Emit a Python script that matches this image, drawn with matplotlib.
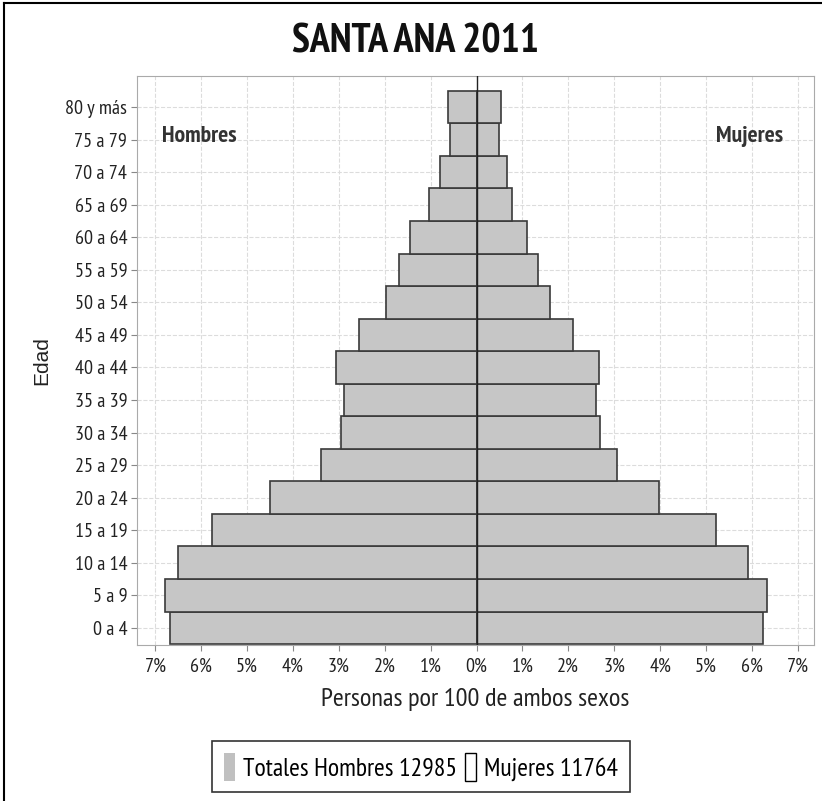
import matplotlib.pyplot as plt
from matplotlib.patches import Patch
from matplotlib.ticker import FuncFormatter

# Data (percent of total population)
grupos = ['0 a 4', '5 a 9', '10 a 14', '15 a 19', '20 a 24', '25 a 29', '30 a 34',
          '35 a 39', '40 a 44', '45 a 49', '50 a 54', '55 a 59', '60 a 64',
          '65 a 69', '70 a 74', '75 a 79', '80 y más']
hombres = [6.69, 6.79, 6.51, 5.77, 4.50, 3.39, 2.96, 2.89, 3.07, 2.56, 1.97,
           1.68, 1.44, 1.04, 0.80, 0.58, 0.62]
mujeres = [6.24, 6.34, 5.92, 5.21, 3.97, 3.06, 2.69, 2.61, 2.66, 2.10, 1.59,
           1.33, 1.09, 0.77, 0.67, 0.49, 0.53]
ticks_x = [-7, -6, -5, -4, -3, -2, -1, 0, 1, 2, 3, 4, 5, 6, 7]

narrow = ['PT Sans Narrow', 'Archivo Narrow', 'DejaVu Sans']

fig = plt.figure(figsize=(8.22, 8.01), dpi=100)
ax = fig.add_axes([0.1667, 0.195, 0.8233, 0.71])

y = range(len(grupos))
bar_kw = dict(height=1.0, color='#c6c6c6', edgecolor='#3a3a3a', linewidth=1.2, zorder=2)
ax.barh(y, [-v for v in hombres], **bar_kw)
ax.barh(y, mujeres, **bar_kw)
ax.axvline(0, color='#222222', linewidth=1.0, zorder=3)

ax.set_xlim(-7.4, 7.35)
ax.set_ylim(-0.52, 16.95)
ax.set_xticks(ticks_x)
ax.xaxis.set_major_formatter(FuncFormatter(lambda v, p: f'{abs(int(round(v)))}%'))
ax.set_yticks(list(y))
ax.set_yticklabels(grupos)
for lab in ax.get_xticklabels() + ax.get_yticklabels():
    lab.set_family(narrow)
    lab.set_fontsize(14.5)
ax.tick_params(axis='both', colors='#888888', labelcolor='#222222', length=4)
ax.tick_params(axis='x', pad=5)
ax.tick_params(axis='y', pad=3)

ax.set_axisbelow(True)
ax.grid(True, color='#dcdcdc', linestyle='--', linewidth=0.8)
for s in ax.spines.values():
    s.set_color('#aaaaaa')

ax.set_xlabel('Personas por 100 de ambos sexos', family=narrow, fontsize=19,
              color='#222222', labelpad=9)
ax.set_ylabel('Edad', family=['Liberation Sans', 'DejaVu Sans'], fontsize=15,
              color='#222222', labelpad=10)

ax.text(0.037, 0.893, 'Hombres', transform=ax.transAxes, family=narrow,
        fontsize=17, fontweight='bold', color='#333333', va='center', ha='left')
ax.text(0.955, 0.893, 'Mujeres', transform=ax.transAxes, family=narrow,
        fontsize=17, fontweight='bold', color='#333333', va='center', ha='right')

fig.text(0.505, 0.948, 'SANTA ANA 2011', family=narrow, fontsize=29,
         fontweight='bold', ha='center', va='center', color='#111111')

handles = [Patch(facecolor='#c0c0c0', edgecolor='none'),
           Patch(facecolor='white', edgecolor='black', linewidth=1)]
leg = fig.legend(handles, ['Totales Hombres 12985', 'Mujeres 11764'], ncol=2,
                 loc='center', bbox_to_anchor=(0.512, 0.043), frameon=True,
                 fancybox=False, handlelength=0.45, handleheight=1.3,
                 handletextpad=0.3, columnspacing=0.3, borderpad=0.45,
                 borderaxespad=0, prop={'family': narrow, 'size': 18.5})
leg.get_frame().set_edgecolor('black')
leg.get_frame().set_linewidth(1.2)

# partial frame around the figure (left and top)
fig.add_artist(plt.Line2D([0.005, 0.005], [0.0, 0.996], color='black', linewidth=1.5,
                          transform=fig.transFigure))
fig.add_artist(plt.Line2D([0.005, 1.0], [0.996, 0.996], color='black', linewidth=1.5,
                          transform=fig.transFigure))

fig.savefig('out.png', dpi=100)
